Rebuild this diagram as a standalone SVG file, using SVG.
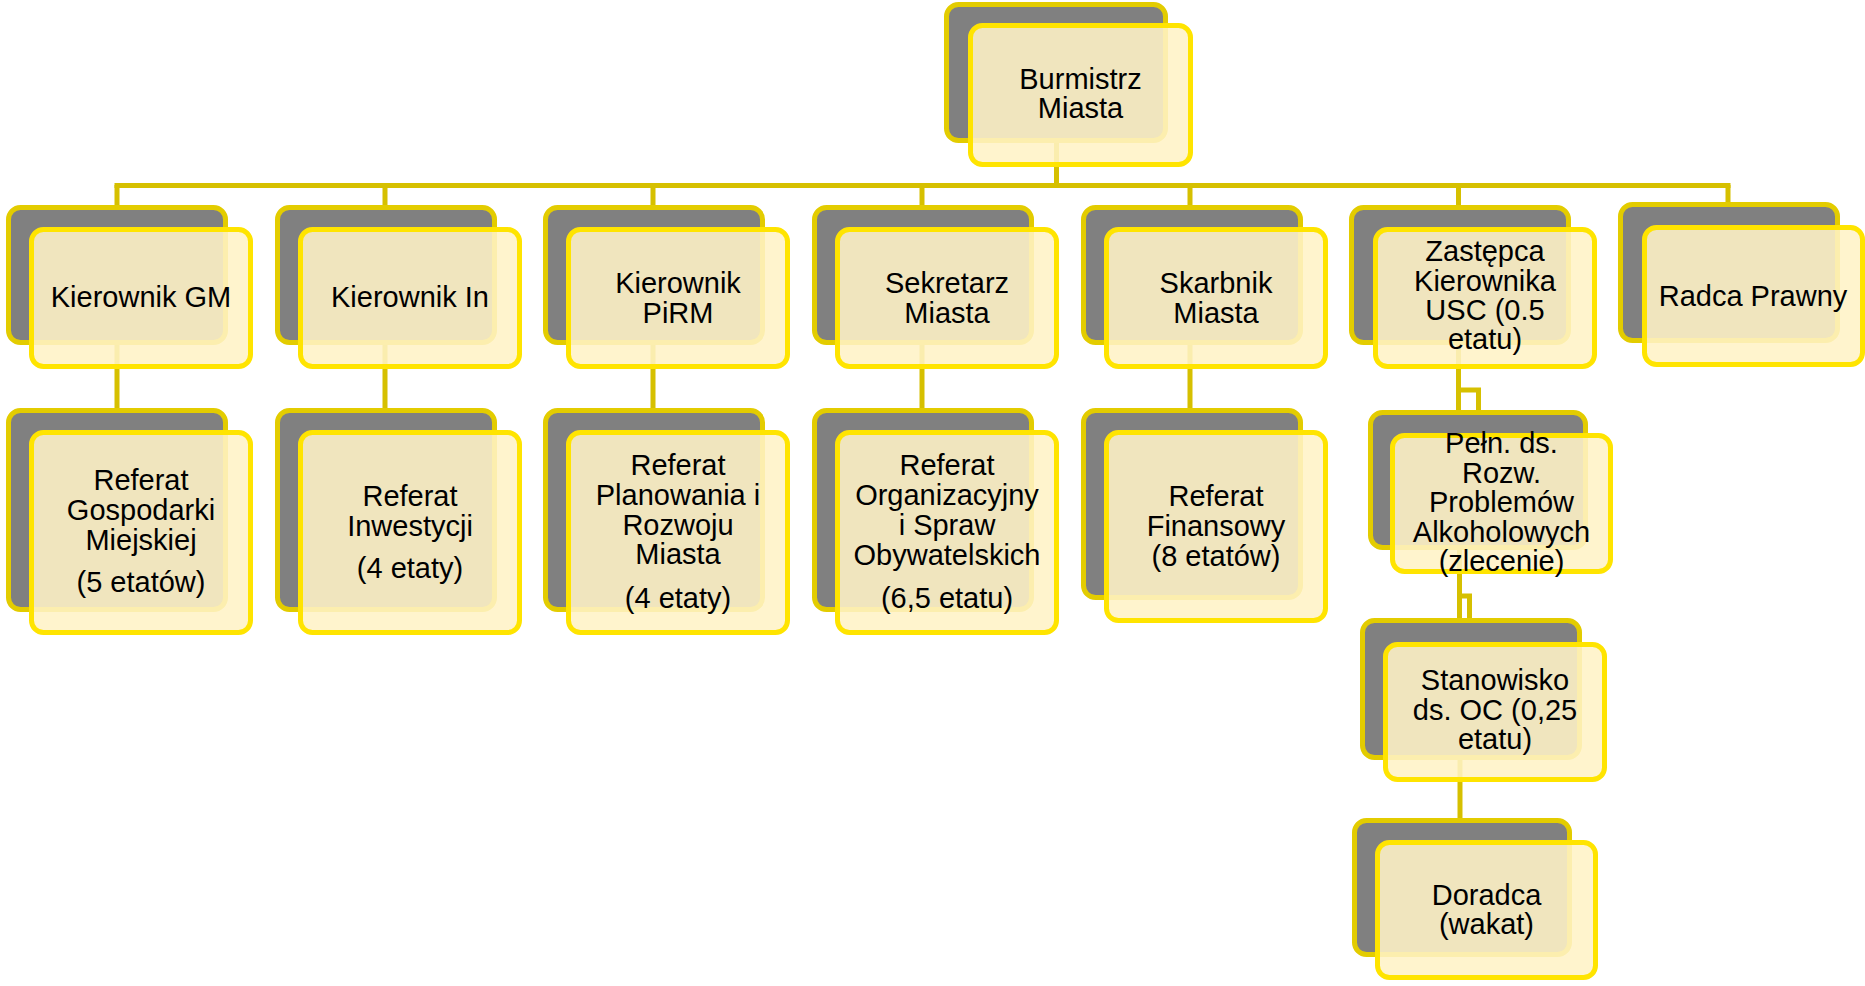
<svg xmlns="http://www.w3.org/2000/svg" width="1865" height="986" viewBox="0 0 1865 986">
<style>
.back{fill:#808080;stroke:#E3CC00;stroke-width:5}
.front{fill:#FFF3C6;fill-opacity:.88;stroke:#FFE400;stroke-width:5}
.conn{stroke:#D6C000;stroke-width:5;fill:none}
text{font-family:"Liberation Sans",Arial,sans-serif;font-size:29px;fill:#000;text-anchor:middle}
</style>
<rect width="1865" height="986" fill="#FFFFFF"/>
<g id="connectors">
<path class="conn" d="M1056.5 143V185.5M114.5 185.5H1730.5"/>
<path class="conn" d="M117 185V206M385 185V206M653 185V206M922 185V206M1190 185V206M1458.5 185V206M1728 185V206"/>
<path class="conn" d="M117 345V408M385 345V408M653 345V408M922 345V408M1190 345V408"/>
<path class="conn" d="M1458.5 345V410"/>
<path class="conn" d="M1458.5 390H1478.5V410"/>
<path class="conn" d="M1459.5 550V620"/>
<path class="conn" d="M1459.5 596H1469.5V620"/>
<path class="conn" d="M1460 760V818"/>
</g>
<g id="n-burmistrz">
<rect class="back" x="946.5" y="4.5" width="219" height="136" rx="12"/>
<rect class="front" x="970.5" y="25.5" width="220" height="139" rx="12"/>
<text x="1080.5" y="89">Burmistrz</text><text x="1080.5" y="118">Miasta</text>
</g>
<g id="n-kier-gm">
<rect class="back" x="8.5" y="207.5" width="217" height="135" rx="12"/>
<rect class="front" x="31.5" y="229.5" width="219" height="137" rx="12"/>
<text x="141" y="307">Kierownik GM</text>
</g>
<g id="n-kier-in">
<rect class="back" x="277.5" y="207.5" width="217" height="135" rx="12"/>
<rect class="front" x="300.5" y="229.5" width="219" height="137" rx="12"/>
<text x="410" y="307">Kierownik In</text>
</g>
<g id="n-kier-pirm">
<rect class="back" x="545.5" y="207.5" width="217" height="135" rx="12"/>
<rect class="front" x="568.5" y="229.5" width="219" height="137" rx="12"/>
<text x="678" y="293">Kierownik</text><text x="678" y="323">PiRM</text>
</g>
<g id="n-sekretarz">
<rect class="back" x="814.5" y="207.5" width="217" height="135" rx="12"/>
<rect class="front" x="837.5" y="229.5" width="219" height="137" rx="12"/>
<text x="947" y="293">Sekretarz</text><text x="947" y="323">Miasta</text>
</g>
<g id="n-skarbnik">
<rect class="back" x="1083.5" y="207.5" width="217" height="135" rx="12"/>
<rect class="front" x="1106.5" y="229.5" width="219" height="137" rx="12"/>
<text x="1216" y="293">Skarbnik</text><text x="1216" y="323">Miasta</text>
</g>
<g id="n-zastepca">
<rect class="back" x="1351.5" y="207.5" width="217" height="135" rx="12"/>
<rect class="front" x="1375.5" y="229.5" width="219" height="137" rx="12"/>
<text x="1485" y="261">Zastępca</text><text x="1485" y="291">Kierownika</text><text x="1485" y="320">USC (0.5</text><text x="1485" y="349">etatu)</text>
</g>
<g id="n-radca">
<rect class="back" x="1620.5" y="204.5" width="217" height="136" rx="12"/>
<rect class="front" x="1644.5" y="227.5" width="218" height="137" rx="12"/>
<text x="1753" y="306">Radca Prawny</text>
</g>
<g id="n-ref-gm">
<rect class="back" x="8.5" y="410.5" width="217" height="199" rx="12"/>
<rect class="front" x="31.5" y="432.5" width="219" height="200" rx="12"/>
<text x="141" y="490">Referat</text><text x="141" y="520">Gospodarki</text><text x="141" y="550">Miejskiej</text><text x="141" y="592">(5 etatów)</text>
</g>
<g id="n-ref-in">
<rect class="back" x="277.5" y="410.5" width="217" height="199" rx="12"/>
<rect class="front" x="300.5" y="432.5" width="219" height="200" rx="12"/>
<text x="410" y="506">Referat</text><text x="410" y="536">Inwestycji</text><text x="410" y="578">(4 etaty)</text>
</g>
<g id="n-ref-pirm">
<rect class="back" x="545.5" y="410.5" width="217" height="199" rx="12"/>
<rect class="front" x="568.5" y="432.5" width="219" height="200" rx="12"/>
<text x="678" y="475">Referat</text><text x="678" y="505">Planowania i</text><text x="678" y="535">Rozwoju</text><text x="678" y="564">Miasta</text><text x="678" y="608">(4 etaty)</text>
</g>
<g id="n-ref-org">
<rect class="back" x="814.5" y="410.5" width="217" height="199" rx="12"/>
<rect class="front" x="837.5" y="432.5" width="219" height="200" rx="12"/>
<text x="947" y="475">Referat</text><text x="947" y="505">Organizacyjny</text><text x="947" y="535">i Spraw</text><text x="947" y="565">Obywatelskich</text><text x="947" y="608">(6,5 etatu)</text>
</g>
<g id="n-ref-fin">
<rect class="back" x="1083.5" y="410.5" width="217" height="187" rx="12"/>
<rect class="front" x="1106.5" y="432.5" width="219" height="188" rx="12"/>
<text x="1216" y="506">Referat</text><text x="1216" y="536">Finansowy</text><text x="1216" y="566">(8 etatów)</text>
</g>
<g id="n-peln">
<rect class="back" x="1370.5" y="412.5" width="215" height="135" rx="12"/>
<rect class="front" x="1392.5" y="435.5" width="218" height="136" rx="12"/>
<text x="1501.5" y="453">Pełn. ds.</text><text x="1501.5" y="483">Rozw.</text><text x="1501.5" y="512">Problemów</text><text x="1501.5" y="542">Alkoholowych</text><text x="1501.5" y="571">(zlecenie)</text>
</g>
<g id="n-stanowisko">
<rect class="back" x="1362.5" y="620.5" width="217" height="137" rx="12"/>
<rect class="front" x="1385.5" y="644.5" width="219" height="135" rx="12"/>
<text x="1495" y="690">Stanowisko</text><text x="1495" y="720">ds. OC (0,25</text><text x="1495" y="749">etatu)</text>
</g>
<g id="n-doradca">
<rect class="back" x="1354.5" y="820.5" width="215" height="134" rx="12"/>
<rect class="front" x="1377.5" y="842.5" width="218" height="135" rx="12"/>
<text x="1486.5" y="905">Doradca</text><text x="1486.5" y="934">(wakat)</text>
</g>
</svg>
